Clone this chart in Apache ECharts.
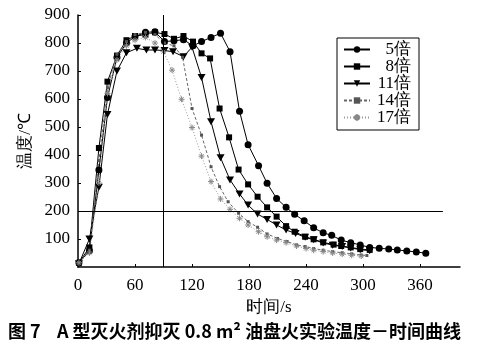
<!DOCTYPE html>
<html>
<head>
<meta charset="utf-8">
<script src="https://cdn.jsdelivr.net/npm/echarts@6/dist/echarts.min.js"></script>
<style>
  html, body { margin: 0; padding: 0; background: #fff; }
  #chart { width: 485px; height: 353px; }
</style>
</head>
<body>
<div id="chart"></div>
<script>
// series names and read-off values (time in s, temperature in °C)
const names = ["5倍", "8倍", "11倍", "14倍", "17倍"];

const t5 = [1, 12, 22, 31, 41, 51, 60, 71, 81, 91, 101, 111, 121, 130, 140, 150, 160, 170, 179, 190, 199, 209, 219, 228, 238, 248, 258, 267, 277, 287, 297, 307, 317, 327, 336, 346, 356, 366];
const v5 = [15, 58, 346, 605, 748, 800, 823, 838, 840, 805, 808, 812, 790, 805, 820, 835, 769, 556, 437, 362, 299, 245, 213, 188, 165, 140, 122, 113, 96, 87, 79, 70, 67, 64, 61, 57, 54, 49];

const t8 = [1, 12, 22, 31, 41, 51, 60, 71, 81, 91, 101, 111, 121, 130, 139, 149, 159, 169, 179, 189, 199, 209, 219, 228, 239, 248, 258, 269, 277, 287, 297, 307];
const v8 = [15, 70, 425, 662, 755, 810, 825, 830, 838, 832, 815, 825, 805, 763, 745, 566, 463, 348, 295, 251, 213, 180, 146, 126, 108, 99, 88, 80, 75, 70, 64, 61];

const t11 = [1, 12, 22, 31, 41, 51, 62, 72, 81, 91, 100, 111, 120, 130, 140, 150, 160, 170, 179, 189, 199, 209, 219, 229, 239, 248, 258, 268, 278, 287, 297, 307];
const v11 = [12, 100, 285, 545, 700, 765, 781, 775, 775, 773, 769, 751, 785, 677, 519, 390, 311, 261, 221, 189, 170, 150, 132, 120, 106, 97, 86, 78, 73, 68, 62, 58];

const t14 = [1, 12, 22, 31, 41, 51, 60, 71, 81, 91, 101, 110, 120, 130, 140, 149, 158, 169, 179, 189, 199, 210, 220, 230, 239, 248, 258, 268, 278, 288, 298, 304];
const v14 = [15, 60, 380, 640, 760, 805, 830, 838, 830, 800, 790, 749, 566, 471, 358, 287, 233, 192, 162, 142, 118, 102, 91, 79, 73, 66, 60, 55, 51, 47, 43, 41];

const t17 = [1, 12, 22, 31, 41, 51, 60, 71, 81, 90, 99, 109, 120, 130, 140, 150, 160, 170, 179, 190, 199, 209, 219, 230, 240, 248, 258, 268, 278, 288, 298];
const v17 = [15, 50, 300, 620, 740, 790, 810, 820, 800, 769, 703, 599, 498, 396, 305, 243, 206, 174, 150, 126, 108, 96, 87, 75, 66, 60, 55, 50, 46, 42, 39];

const refTime = 90;
const refTemp = 200;
const refEnd = 384;

function pairs(ts, vs) {
    return ts.map((t, i) => [t, vs[i]]);
}

const serif = "Liberation Serif";
const triangleDown = "path://M0,0L10,0L5,9Z";
const asterisk = "path://M5,0L5,10M0,5L10,5M1.5,1.5L8.5,8.5M8.5,1.5L1.5,8.5";

let chart = echarts.init(document.getElementById("chart"));

const lineBase = {
    type: "line",
    showSymbol: true,
    animation: false,
};

let series = [
    {
        ...lineBase,
        name: names[0],
        data: pairs(t5, v5),
        symbol: "circle",
        symbolSize: 7,
        itemStyle: { color: "#000" },
        lineStyle: { color: "#000", width: 1 },
        markLine: {
            silent: true,
            symbol: "none",
            label: { show: false },
            lineStyle: { color: "#000", width: 1, type: "solid" },
            data: [
                { xAxis: refTime },
                [{ coord: [0, refTemp] }, { coord: [refEnd, refTemp] }],
            ],
        },
    },
    {
        ...lineBase,
        name: names[1],
        data: pairs(t8, v8),
        symbol: "rect",
        symbolSize: 6,
        itemStyle: { color: "#000" },
        lineStyle: { color: "#000", width: 1 },
    },
    {
        ...lineBase,
        name: names[2],
        data: pairs(t11, v11),
        symbol: triangleDown,
        symbolSize: [8, 7],
        itemStyle: { color: "#000" },
        lineStyle: { color: "#000", width: 1 },
    },
    {
        ...lineBase,
        name: names[3],
        data: pairs(t14, v14),
        symbol: "rect",
        symbolSize: 3,
        itemStyle: { color: "#555" },
        lineStyle: { color: "#666", width: 1, type: [3, 2] },
    },
    {
        ...lineBase,
        name: names[4],
        data: pairs(t17, v17),
        symbol: asterisk,
        symbolSize: 6,
        itemStyle: { color: "rgba(0,0,0,0)", borderColor: "#888", borderWidth: 1 },
        lineStyle: { color: "#999", width: 1, type: [1, 2] },
    },
];

let option = {
    backgroundColor: "#fff",
    animation: false,
    grid: { left: 78, right: 25, top: 15, bottom: 86 },
    legend: {
        orient: "vertical",
        left: 337,
        top: 38,
        padding: [3, 8, 4, 6],
        itemGap: 0,
        itemWidth: 26,
        itemHeight: 8,
        borderColor: "#000",
        borderWidth: 1,
        formatter: (name) => "{n|" + name + "}",
        textStyle: {
            rich: {
                n: {
                    fontFamily: serif,
                    fontSize: 17,
                    color: "#000",
                    width: 36,
                    align: "right",
                    lineHeight: 16,
                },
            },
        },
        data: names,
    },
    xAxis: {
        type: "value",
        min: 0,
        max: 402,
        interval: 60,
        name: "时间/s",
        nameLocation: "middle",
        nameGap: 32,
        nameTextStyle: { fontFamily: serif, fontSize: 17, color: "#000" },
        axisLine: { lineStyle: { color: "#000", width: 1.5 } },
        axisTick: { inside: true, length: 3, lineStyle: { color: "#000" } },
        axisLabel: {
            fontFamily: serif,
            fontSize: 17,
            color: "#000",
            margin: 10,
            showMaxLabel: false,
        },
        splitLine: { show: false },
    },
    yAxis: {
        type: "value",
        min: 0,
        max: 900,
        interval: 100,
        name: "温度/℃",
        nameLocation: "middle",
        nameGap: 40,
        nameTextStyle: { fontFamily: serif, fontSize: 17, color: "#000" },
        axisLine: { show: true, lineStyle: { color: "#000", width: 1.5 } },
        axisTick: { show: true, inside: true, length: 3, lineStyle: { color: "#000" } },
        axisLabel: {
            fontFamily: serif,
            fontSize: 17,
            color: "#000",
            margin: 8,
            showMinLabel: false,
        },
        splitLine: { show: false },
    },
    graphic: [
        {
            type: "text",
            left: 8,
            top: 322,
            style: {
                text: "图 7",
                font: "bold 18px 'Noto Sans CJK SC'",
                fill: "#000",
            },
        },
        {
            type: "text",
            left: 57,
            top: 322,
            style: {
                text: "A 型灭火剂抑灭 0.8 m² 油盘火实验温度－时间曲线",
                font: "bold 18px 'Noto Sans CJK SC'",
                fill: "#000",
            },
        },
    ],
    series,
};

option && chart.setOption(option);
</script>
</body>
</html>
